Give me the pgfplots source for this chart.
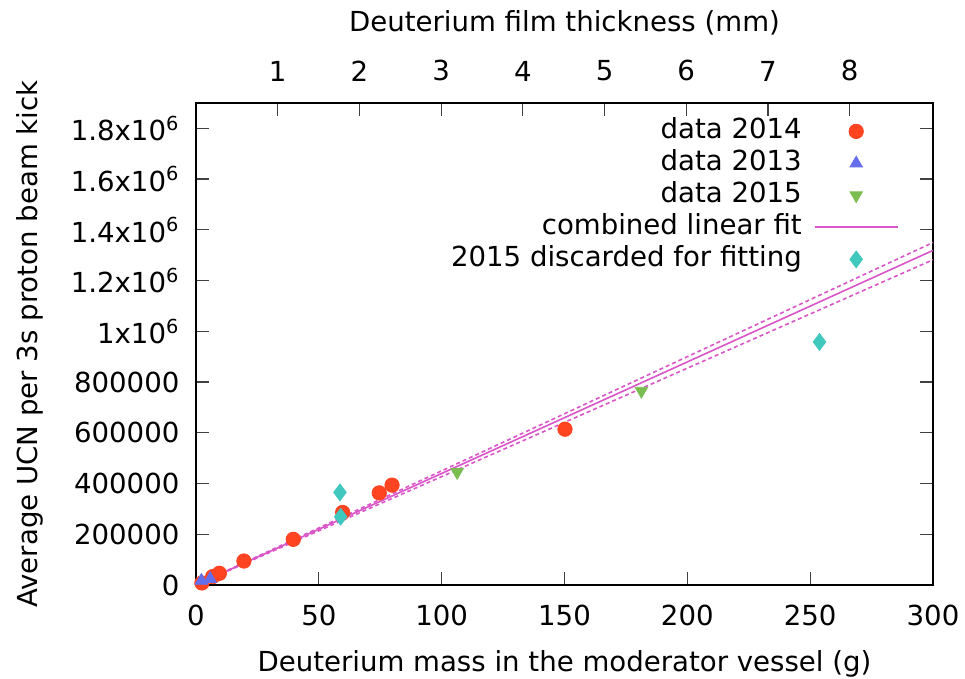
\documentclass[border=0pt]{standalone}
\usepackage{fontspec}
\setmainfont{DejaVu Sans}
\usepackage{pgfplots}
\pgfplotsset{compat=1.18}
\usetikzlibrary{calc}
\definecolor{cA}{RGB}{255,68,34}
\definecolor{cB}{RGB}{100,110,235}
\definecolor{cC}{RGB}{122,190,82}
\definecolor{cD}{RGB}{64,200,190}
\definecolor{cF}{RGB}{218,85,200}
\begin{document}
\fontsize{13.8pt}{16pt}\selectfont
\begin{tikzpicture}
\begin{axis}[name=ax, scale only axis, width=368.5pt, height=241pt,
  xmin=0, xmax=300, ymin=0, ymax=1.9e6,
  xtick={0,50,...,300}, ytick={0,200000,400000,600000,800000,1000000,1200000,1400000,1600000,1800000},
  yticklabels={0,200000,400000,600000,800000,1x10\textsuperscript{6},1.2x10\textsuperscript{6},1.4x10\textsuperscript{6},1.6x10\textsuperscript{6},1.8x10\textsuperscript{6}},
  scaled y ticks=false, scaled x ticks=false,
  /pgf/number format/assume math mode=true,
  tick align=inside, xtick pos=lower, ytick pos=both, yticklabel pos=left,
  major tick length=6.5pt,
  tick style={black!75, line width=0.6pt},
  axis line style={line width=0.8pt},
  tick label style={font=\fontsize{13.8pt}{16pt}\selectfont},
  yticklabel style={xshift=-3.5pt},
  xticklabel style={yshift=-5pt},
  xlabel={Deuterium mass in the moderator vessel (g)},
  ylabel={Average UCN per 3s proton beam kick},
  every axis x label/.style={at={(axis description cs:0.5,0)}, yshift=-39.5pt, anchor=center},
  every axis y label/.style={at={(axis description cs:0,0.5)}, xshift=-83pt, rotate=90, anchor=center},
  legend cell align=right, legend plot pos=right,
  legend style={draw=none, fill=none, at={(axis description cs:1,1)}, anchor=north east, xshift=-14pt, yshift=-4.5pt,
    row sep=1pt, column sep=5pt, nodes={inner sep=1pt, text height=10pt, text depth=3pt},
    font=\fontsize{13.8pt}{16pt}\selectfont},
  legend image code/.code={\draw[mark repeat=2,mark phase=2,#1] plot coordinates {(0pt,0pt) (20.75pt,0pt) (41.5pt,0pt)};},
  clip=false]
\addplot[only marks, mark=*, mark size=3.6pt, color=cA] coordinates {
 (2.4,8000) (6.8,33000) (9.5,46000) (19.5,94500) (39.6,180000) (59.7,286000) (74.6,363000) (79.8,393700) (150.2,614000)};
\addlegendentry{data 2014}
\addplot[only marks, mark=triangle*, mark size=3.6pt, color=cB] coordinates {
 (2.2,17000) (5.8,24000)};
\addlegendentry{data 2013}
\addplot[only marks, mark=triangle*, mark options={rotate=180}, mark size=3.6pt, color=cC] coordinates {
 (106.3,445000) (181.3,765000)};
\addlegendentry{data 2015}
\addplot[color=cF, line width=0.8pt, legend image code/.code={\draw[cF, line width=0.9pt] (0pt,0pt) -- (41.5pt,0pt);}] coordinates {(0,0) (300,1319000)};
\addlegendentry{combined linear fit}
\addplot[only marks, mark=diamond*, mark size=4.2pt, color=cD] coordinates {
 (58.6,365000) (58.9,269000) (253.8,958000)};
\addlegendentry{2015 discarded for fitting}
\addplot[color=cF, line width=0.8pt, dash pattern=on 2pt off 1.5pt, forget plot] coordinates {(0,0) (300,1350000)};
\addplot[color=cF, line width=0.8pt, dash pattern=on 2pt off 1.5pt, forget plot] coordinates {(0,0) (300,1282000)};
\end{axis}
\begin{axis}[scale only axis, width=368.5pt, height=241pt,
  xmin=0, xmax=9.02, ymin=0, ymax=1,
  axis x line*=top, axis y line=none,
  xtick={1,2,...,8},
  /pgf/number format/assume math mode=true,
  tick align=inside, major tick length=6.5pt,
  tick style={black!75, line width=0.6pt},
  axis line style={line width=0.8pt},
  tick label style={font=\fontsize{13.8pt}{16pt}\selectfont},
  xticklabel style={yshift=6pt},
  xlabel={Deuterium film thickness (mm)},
  every axis x label/.style={at={(axis description cs:0.5,1)}, yshift=40pt, anchor=center}]
\end{axis}
\pgfresetboundingbox
\path ($(ax.south west)+(-98pt,-47pt)$) rectangle ($(ax.north east)+(16pt,51.5pt)$);
\end{tikzpicture}
\end{document}
